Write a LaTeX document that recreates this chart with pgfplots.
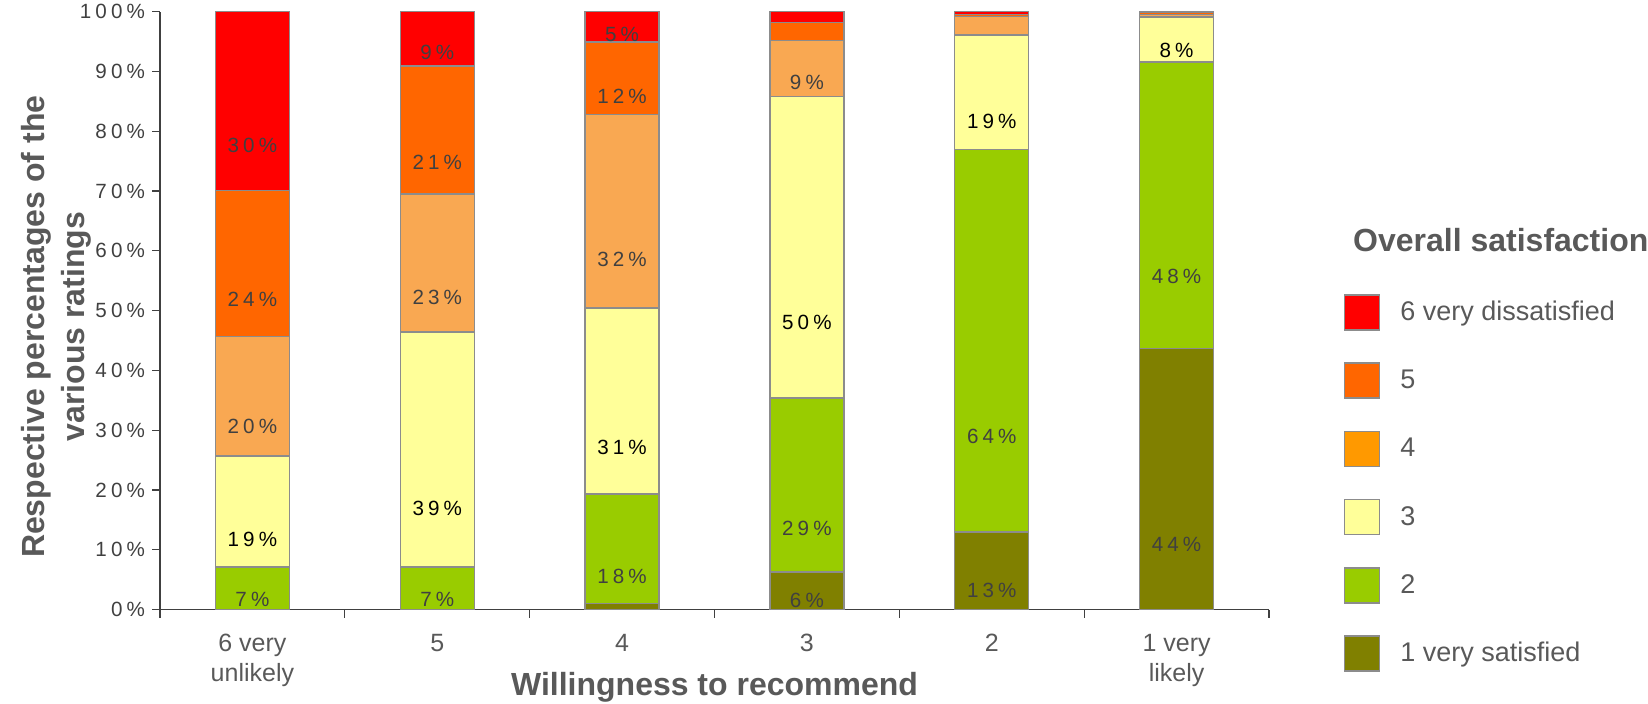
\documentclass[border=0pt]{standalone}
\usepackage{fontspec}
\setmainfont{Liberation Sans}
\newfontfamily\spacedfont[LetterSpace=20]{Liberation Sans}
\usepackage{pgfplots}
\usepackage{pgfplotstable}
\pgfplotsset{compat=1.18}
\definecolor{cA}{HTML}{808000}
\definecolor{cB}{HTML}{99CC00}
\definecolor{cC}{HTML}{FFFF99}
\definecolor{cD}{HTML}{F9A852}
\definecolor{cDleg}{HTML}{FF9900}
\definecolor{cE}{HTML}{FF6600}
\definecolor{cF}{HTML}{FF0000}
\definecolor{edge}{HTML}{8C8C8C}
\definecolor{txt}{HTML}{595959}
\definecolor{dark}{HTML}{404040}

% column m = segment value / printed label (n = no label)
% series 1 very satisfied
\pgfplotstableread{
x v m
0 0 0/n
1 0 0/n
2 1.0 1.0/n
3 6.3 6.3/6
4 13.0 13.0/13
5 43.7 43.7/44
}\sA
% series 2
\pgfplotstableread{
x v m
0 7.1 7.1/7
1 7.1 7.1/7
2 18.3 18.3/18
3 29.1 29.1/29
4 63.9 63.9/64
5 47.9 47.9/48
}\sB
% series 3
\pgfplotstableread{
x v m
0 18.6 18.6/19
1 39.3 39.3/39
2 31.1 31.1/31
3 50.4 50.4/50
4 19.2 19.2/19
5 7.5 7.5/8
}\sC
% series 4
\pgfplotstableread{
x v m
0 20.0 20.0/20
1 23.1 23.1/23
2 32.4 32.4/32
3 9.4 9.4/9
4 3.1 3.1/n
5 0.4 0.4/n
}\sD
% series 5
\pgfplotstableread{
x v m
0 24.4 24.4/24
1 21.4 21.4/21
2 12.1 12.1/12
3 3.0 3.0/n
4 0.3 0.3/n
5 0.3 0.3/n
}\sE
% series 6 very dissatisfied
\pgfplotstableread{
x v m
0 29.9 29.9/30
1 9.1 9.1/9
2 5.1 5.1/5
3 1.8 1.8/n
4 0.5 0.5/n
5 0.2 0.2/n
}\sF

\def\splitmeta#1/#2\relax{\def\segval{#1}\def\lab{#2}}

\pgfplotsset{
  seg/.style n args={3}{
    fill=#1, draw=edge, line width=0.7pt,
    point meta=explicit symbolic,
    nodes near coords={\expandafter\splitmeta\pgfplotspointmeta\relax\if n\lab\else\lab\%\fi},
    % the style is applied twice by pgfplots, so a quarter shift gives the segment centre
    every node near coord/.style={anchor=center, text=#3,
      font=\spacedfont\fontsize{10.3}{12}\selectfont,
      /utils/exec={\expandafter\splitmeta\pgfplotspointmeta\relax},
      yshift={-0.25*\segval*2.99pt}},
    legend image code/.code={\draw[fill=#2, draw=edge, line width=0.8pt] (0pt,-8.75pt) rectangle (17.5pt,8.75pt);}
  }
}

\begin{document}
\begin{tikzpicture}
\begin{axis}[name=ax,
  scale only axis, width=554.5pt, height=299pt,
  ybar stacked, bar width=37pt,
  xmin=-0.5, xmax=5.5, ymin=0, ymax=100,
  axis x line=bottom, axis y line=left,
  axis line style={-, draw=dark, line width=0.6pt},
  tick align=outside, major tick length=0pt, minor tick length=4pt,
  tick style={draw=dark, line width=0.6pt},
  xtick={0,1,2,3,4,5},
  xticklabels={{6 very\\unlikely},5,4,3,2,{1 very\\likely}},
  minor xtick={-0.5,0.5,1.5,2.5,3.5,4.5,5.5},
  xticklabel style={align=center, font=\fontsize{12.5}{15}\selectfont, text=txt, yshift=-8.6pt},
  ytick={0,10,...,100},
  minor ytick={0,10,...,100},
  yticklabels={0\%,10\%,20\%,30\%,40\%,50\%,60\%,70\%,80\%,90\%,100\%},
  yticklabel style={font=\spacedfont\fontsize{10.3}{12}\selectfont, text=dark, xshift=-4pt},
  xlabel={Willingness to recommend},
  xlabel style={at={(axis description cs:0.5,-0.105)}, anchor=north, inner sep=0pt,
    font=\bfseries\fontsize{16}{19}\selectfont, text=txt},
  ylabel={Respective percentages of the\\various ratings},
  ylabel style={at={(axis description cs:-0.062,0.473)}, anchor=south, inner sep=0pt, align=center,
    font=\bfseries\fontsize{16}{20}\selectfont, text=txt},
  reverse legend,
  legend cell align=left,
  legend style={at={(1.067,0.528)}, anchor=north west, draw=none, fill=none, inner sep=0pt,
    font=\fontsize{13.5}{15}\selectfont, text=txt, row sep=15.8pt,
    /tikz/every odd column/.append style={column sep=8pt}},
  clip=false,
]
\addplot[seg={cA}{cA}{dark}] table[x=x,y=v,meta=m] {\sA};
\addlegendentry{1 very satisfied}
\addplot[seg={cB}{cB}{dark}] table[x=x,y=v,meta=m] {\sB};
\addlegendentry{2}
\addplot[seg={cC}{cC}{black}] table[x=x,y=v,meta=m] {\sC};
\addlegendentry{3}
\addplot[seg={cD}{cDleg}{dark}] table[x=x,y=v,meta=m] {\sD};
\addlegendentry{4}
\addplot[seg={cE}{cE}{dark}] table[x=x,y=v,meta=m] {\sE};
\addlegendentry{5}
\addplot[seg={cF}{cF}{dark}] table[x=x,y=v,meta=m] {\sF};
\addlegendentry{6 very dissatisfied}
\end{axis}
\node[font=\bfseries\fontsize{16}{19}\selectfont, text=txt] at ([shift={(670.4pt,185pt)}]ax.south west) {Overall satisfaction};
\pgfresetboundingbox
\path ([shift={(-80pt,-47.2pt)}]ax.south west) rectangle ([shift={(744pt,304.8pt)}]ax.south west);
\end{tikzpicture}
\end{document}
